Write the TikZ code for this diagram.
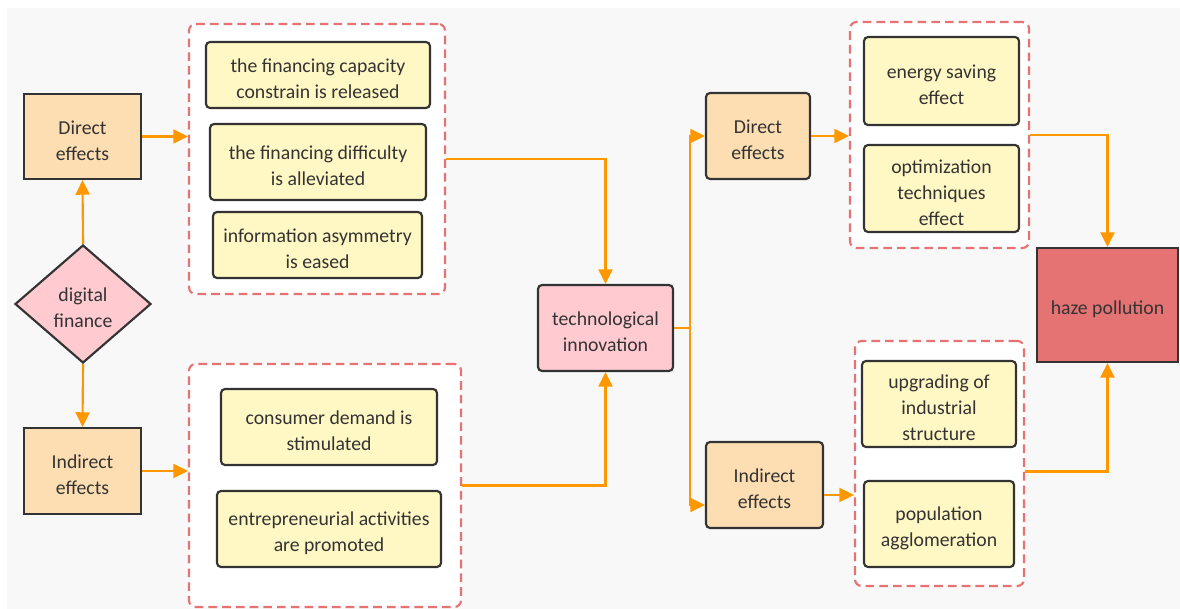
\documentclass[tikz,border=0pt]{standalone}
\usepackage{fontspec}
\setmainfont{Carlito}
\usetikzlibrary{arrows.meta,shapes.geometric,calc}
\definecolor{bgc}{HTML}{F8F8F8}
\definecolor{bordc}{HTML}{333333}
\definecolor{txt}{HTML}{333333}
\definecolor{peach}{HTML}{FDDEB2}
\definecolor{yel}{HTML}{FFF8C4}
\definecolor{pinkc}{HTML}{FFCAD0}
\definecolor{hazec}{HTML}{E57373}
\definecolor{dashc}{HTML}{E57373}
\definecolor{orng}{HTML}{FF9800}
\newcommand{\TopStrut}{\rule{0pt}{16.5pt}}
\begin{document}
\begin{tikzpicture}[x=0.75pt,y=-0.75pt,
  font=\fontsize{14.8}{19.5}\selectfont,
  rect/.style n args={4}{minimum width={(#3-#1)*0.75pt}, minimum height={(#4-#2)*0.75pt}, at={({(#1+#3)/2},{(#2+#4)/2})}},
  box/.style={draw=bordc, line width=1.6pt, text=txt, align=center, inner sep=0pt},
  ybox/.style={box, fill=yel, rounded corners=3pt},
  pboxsq/.style={box, fill=peach},
  pboxrd/.style={box, fill=peach, rounded corners=3pt},
  grp/.style={draw=dashc, line width=1.6pt, dash pattern=on 6.5pt off 3.8pt, fill=white, rounded corners=5pt, inner sep=0pt},
  conn/.style={draw=orng, line width=1.6pt},
  arr/.style={conn, -{Triangle[length=11pt,width=10.5pt]}}
]
\useasboundingbox (0,0) rectangle (1180,609);
\fill[bgc] (7,8) rectangle (1180,609);

% dashed groups
\node[grp, rect={189}{24}{445}{294}] (g1) {};
\node[grp, rect={189}{364}{461}{607}] (g2) {};
\node[grp, rect={850}{22}{1029}{248}] (g3) {};
\node[grp, rect={855}{341}{1024}{586}] (g4) {};

% left column
\node[pboxsq, rect={24}{94}{141}{179}] (dL) {\TopStrut Direct\\effects};
\node[pboxsq, rect={24}{428}{141}{514}] (iL) {\TopStrut Indirect\\effects};
\node[diamond, draw=bordc, fill=pinkc, line width=1.6pt, text=txt, align=center,
      inner sep=0pt, minimum width=102pt, minimum height=88.5pt] (df) at (83,304) {\TopStrut digital\\finance};

% group 1 contents
\node[ybox, rect={206}{42}{430}{108}] (a1) {\TopStrut the financing capacity\\constrain is released};
\node[ybox, rect={210}{124}{426}{200}] (a2) {\TopStrut the financing difficulty\\is alleviated};
\node[ybox, rect={213}{212}{422}{278}] (a3) {\TopStrut information asymmetry\\is eased};

% group 2 contents
\node[ybox, rect={221}{389}{437}{465}] (b1) {\TopStrut consumer demand is\\stimulated};
\node[ybox, rect={217}{491}{441}{567}] (b2) {\TopStrut entrepreneurial activities\\are promoted};

% centre
\node[box, fill=pinkc, rounded corners=3pt, rect={538}{285}{673}{371}] (tech) {\TopStrut technological\\innovation};

% right column
\node[pboxrd, rect={706}{93}{810}{179}] (dR) {\TopStrut Direct\\effects};
\node[pboxrd, rect={706}{442}{823}{528}] (iR) {\TopStrut Indirect\\effects};

% group 3 contents
\node[ybox, rect={864}{37}{1019}{125}] (c1) {\TopStrut energy saving\\effect};
\node[ybox, rect={864}{145}{1019}{232}] (c2) {\TopStrut optimization\\techniques\\effect};

% group 4 contents
\node[ybox, rect={862}{361}{1016}{447}] (d1) {\TopStrut upgrading of\\industrial\\structure};
\node[ybox, rect={864}{481}{1014}{567}] (d2) {\TopStrut population\\agglomeration};

% outcome
\node[box, fill=hazec, rect={1037}{248}{1178}{362}] (haze) {\TopStrut haze pollution};

% connectors
\draw[arr] (df.north) -- (dL.south);
\draw[arr] (df.south) -- (iL.north);
\draw[arr] (dL.east) -- (dL.east -| g1.west);
\draw[arr] (iL.east) -- (iL.east -| g2.west);
\draw[arr] (g1.east) -| (tech.north);
\draw[arr] (g2.east) -| (tech.south);
\coordinate (sp) at ($(tech.east)+(16,0)$);
\draw[conn] (tech.east) -- (sp);
\coordinate (iRin) at ($(iR.west)+(0,20)$);
\draw[arr] (sp) |- (dR.west);
\draw[arr] (sp) |- (iRin);
\draw[arr] (dR.east) -- (dR.east -| g3.west);
\coordinate (iRout) at ($(iR.east)+(0,10)$);
\draw[arr] (iRout) -- (iRout -| g4.west);
\draw[arr] (g3.east) -| (haze.north);
\coordinate (g4out) at ($(g4.east)+(0,8)$);
\draw[arr] (g4out) -| (haze.south);
\end{tikzpicture}
\end{document}
